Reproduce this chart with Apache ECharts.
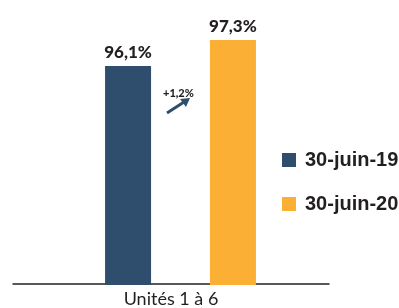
<!DOCTYPE html>
<html>
<head>
<meta charset="utf-8">
<script src="https://cdn.jsdelivr.net/npm/echarts@6/dist/echarts.min.js"></script>
<style>
  html, body { margin: 0; padding: 0; background: #fff; }
  #chart { width: 399px; height: 308px; }
</style>
</head>
<body>
<div id="chart"></div>
<script>
const categories = ['Unités 1 à 6'];
const seriesNames = ['30-juin-19', '30-juin-20'];
const values19 = [96.1];
const values20 = [97.3];
const deltaLabel = '+1,2%';

const chart = echarts.init(document.getElementById('chart'), null, { renderer: 'canvas' });

const fmt = function (p) {
    return p.value.toFixed(1).replace('.', ',') + '%';
};

const barLabel = {
    show: true,
    position: 'top',
    distance: 5,
    formatter: fmt,
    fontFamily: 'Lato',
    fontWeight: 900,
    fontSize: 17,
    color: '#231f20'
};

const option = {
    animation: false,
    legend: {
        data: seriesNames,
        orient: 'vertical',
        left: 277,
        top: 145,
        itemWidth: 14,
        itemHeight: 14,
        itemGap: 24,
        icon: 'rect',
        textStyle: {
            fontFamily: 'Liberation Sans',
            fontWeight: 'bold',
            fontSize: 20,
            color: '#231f20',
            padding: [0, 0, 0, 4]
        }
    },
    grid: [
        { left: 13, right: 70, top: 3, bottom: 23 },
        { left: 32, right: 70, top: 3, bottom: 23 }
    ],
    xAxis: [{
        gridIndex: 0,
        type: 'category',
        data: categories,
        axisLine: { lineStyle: { color: '#222', width: 1.5 } },
        axisTick: { show: false },
        axisLabel: {
            margin: 6,
            fontFamily: 'Lato',
            fontSize: 18,
            color: '#231f20'
        }
    }, {
        gridIndex: 1,
        type: 'category',
        data: categories,
        show: false
    }],
    yAxis: [{
        gridIndex: 0,
        type: 'value',
        min: 86,
        max: 99,
        show: false
    }, {
        gridIndex: 1,
        type: 'value',
        min: 86,
        max: 99,
        show: false
    }],
    series: [{
        name: seriesNames[0],
        type: 'bar',
        xAxisIndex: 1,
        yAxisIndex: 1,
        data: values19,
        barWidth: 46,
        barGap: '128%',
        itemStyle: { color: '#2f4d6c' },
        label: barLabel
    }, {
        name: seriesNames[1],
        type: 'bar',
        xAxisIndex: 1,
        yAxisIndex: 1,
        data: values20,
        barWidth: 46,
        itemStyle: { color: '#fbaf35' },
        label: barLabel
    }],
    graphic: [{
        type: 'text',
        left: 163,
        top: 88,
        style: {
            text: deltaLabel,
            fontFamily: 'Lato',
            fontWeight: 900,
            fontSize: 11,
            fill: '#231f20'
        }
    }, {
        type: 'line',
        shape: { x1: 167, y1: 113, x2: 184, y2: 102 },
        style: { stroke: '#2f4d6c', lineWidth: 3 }
    }, {
        type: 'polygon',
        shape: { points: [[190, 98], [180, 99], [186, 107]] },
        style: { fill: '#2f4d6c' }
    }]
};

chart.setOption(option);
</script>
</body>
</html>
